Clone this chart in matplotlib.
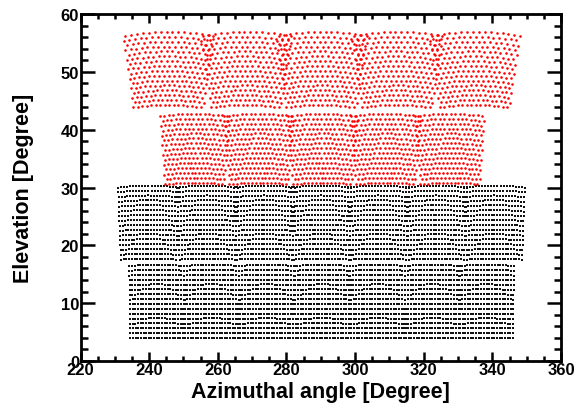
import numpy as np
import matplotlib
matplotlib.use("Agg")
import matplotlib.pyplot as plt
from matplotlib.ticker import MultipleLocator

# pointing directions of the telescopes (azimuth list per row, elevation of the row)
black_up_az = [239.8, 256.9, 273.6, 290.1, 306.8, 323.7, 340.6]
black_up_el = 24.0
black_lo_az = [242.2, 258.2, 274.2, 290.4, 306.6, 322.5, 338.3]
black_lo_el = 10.3
red_up_az = [245.5, 268.2, 290.1, 312.2, 334.8]
red_up_el = 50.6
red_lo_az = [253.2, 271.9, 290.5, 308.9, 327.6]
red_lo_el = 36.8

# camera pixel layouts: (columns, rows, column pitch, row pitch) in degrees
black_cam = (21, 16, 0.77, 0.84)
red_up_cam = (16, 16, 0.95, 0.84)
red_lo_cam = (16, 15, 0.96, 0.85)


def cameraPixels(ncol, nrow, dx, dy, hexagonal):
    u, v = [], []
    for j in range(nrow):
        shift = 0.5 * dx if (hexagonal and j % 2) else 0.0
        for i in range(ncol):
            u.append((i - (ncol - 1) / 2.0) * dx + shift - (0.25 * dx if hexagonal else 0))
            v.append((j - (nrow - 1) / 2.0) * dy)
    return np.array(u), np.array(v)


def projectCamera(az0, el0, u, v):
    a, e = np.radians(az0), np.radians(el0)
    c = np.array([np.cos(e) * np.cos(a), np.cos(e) * np.sin(a), np.sin(e)])
    eaz = np.array([-np.sin(a), np.cos(a), 0.0])
    eel = np.array([-np.sin(e) * np.cos(a), -np.sin(e) * np.sin(a), np.cos(e)])
    tu, tv = np.tan(np.radians(u)), np.tan(np.radians(v))
    d = c[:, None] + eaz[:, None] * tu + eel[:, None] * tv
    d /= np.linalg.norm(d, axis=0)
    az = np.degrees(np.arctan2(d[1], d[0])) % 360
    el = np.degrees(np.arcsin(d[2]))
    return az, el


def rowPixels(az_list, el0, cam, hexagonal):
    u, v = cameraPixels(*cam, hexagonal)
    pts = [projectCamera(a, el0, u, v) for a in az_list]
    return np.concatenate([p[0] for p in pts]), np.concatenate([p[1] for p in pts])


plt.rcParams['font.family'] = ['Liberation Sans', 'DejaVu Sans']
plt.rcParams['font.weight'] = 'bold'

fig = plt.figure(figsize=(5.81, 4.10), dpi=100)
ax = fig.add_axes([0.1386, 0.117, 0.827, 0.8464])

for az_list, el0 in [(black_up_az, black_up_el), (black_lo_az, black_lo_el)]:
    x, y = rowPixels(az_list, el0, black_cam, False)
    ax.scatter(x, y, s=1.5, marker='s', c='#111111', linewidths=0)

for az_list, el0, cam in [(red_up_az, red_up_el, red_up_cam), (red_lo_az, red_lo_el, red_lo_cam)]:
    x, y = rowPixels(az_list, el0, cam, True)
    ax.scatter(x, y, s=3.5, marker='o', c='red', linewidths=0)

ax.set_xlim(220, 360)
ax.set_ylim(0, 60)
ax.xaxis.set_major_locator(MultipleLocator(20))
ax.xaxis.set_minor_locator(MultipleLocator(5))
ax.yaxis.set_major_locator(MultipleLocator(10))
ax.yaxis.set_minor_locator(MultipleLocator(2))
ax.tick_params(which='both', direction='in', top=True, right=True, width=1.8, labelsize=12)
ax.tick_params(axis='x', which='major', length=6.5, pad=1)
ax.tick_params(axis='x', which='minor', length=3.3)
ax.tick_params(axis='y', which='major', length=10, pad=1)
ax.tick_params(axis='y', which='minor', length=5)
for s in ax.spines.values():
    s.set_linewidth(2)

ax.set_xlabel('Azimuthal angle [Degree]', fontsize=15.5, fontweight='bold')
ax.set_ylabel('Elevation [Degree]', fontsize=15.5, fontweight='bold')
ax.xaxis.set_label_coords(0.5, -0.058)
ax.yaxis.set_label_coords(-0.097, 0.5)

fig.savefig('out.png', dpi=100)
